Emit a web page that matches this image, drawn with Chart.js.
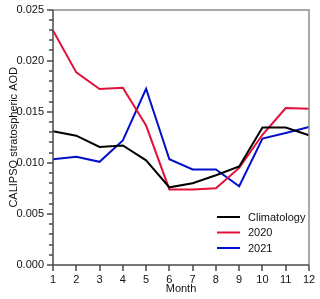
<!DOCTYPE html>
<html>
<head>
<meta charset="utf-8">
<script src="https://cdn.jsdelivr.net/npm/chart.js@4/dist/chart.umd.min.js"></script>
<style>
  html, body { margin: 0; padding: 0; background: #fff; }
  #wrap { width: 320px; height: 299px; }
</style>
</head>
<body>
<div id="wrap"><canvas id="aodChart" width="320" height="299"></canvas></div>
<script>
const months = ['1', '2', '3', '4', '5', '6', '7', '8', '9', '10', '11', '12'];
const climatology = [0.0131, 0.01266, 0.01155, 0.0117, 0.01025, 0.0076, 0.008, 0.00879, 0.00965, 0.01345, 0.01345, 0.0127];
const aod2020 = [0.02295, 0.01885, 0.01722, 0.01735, 0.01365, 0.0074, 0.0074, 0.00752, 0.0095, 0.01275, 0.01537, 0.0153];
const aod2021 = [0.01035, 0.0106, 0.0101, 0.0122, 0.01725, 0.01035, 0.00935, 0.00935, 0.00771, 0.01237, 0.01292, 0.0135];

const FONT = "'Liberation Sans', Arial, sans-serif";
const isMajor = v => Math.round(v * 1000) % 5 === 0;

// frame, tick marks and the legend inside the plot, all drawn last
const decorations = {
    id: 'decorations',
    afterDraw(chart) {
        const { ctx, chartArea: a, scales } = chart;
        const ys = scales.y, xs = scales.x;
        const L = Math.round(a.left), R = Math.round(a.right), T = Math.round(a.top), B = Math.round(a.bottom);
        ctx.save();
        ctx.lineWidth = 1.5;
        ctx.lineCap = 'butt';

        // top + right frame in grey
        ctx.strokeStyle = '#8c8c8c';
        ctx.beginPath();
        ctx.moveTo(L, T);
        ctx.lineTo(R, T);
        ctx.lineTo(R, B);
        ctx.stroke();

        // left + bottom axes with outward ticks
        ctx.strokeStyle = '#4a4a4a';
        ctx.beginPath();
        ctx.moveTo(L, T);
        ctx.lineTo(L, B);
        ctx.lineTo(R, B);
        for (let i = 0; i <= 25; i++) {
            const py = Math.round(ys.getPixelForValue(i / 1000));
            ctx.moveTo(L, py);
            ctx.lineTo(L - (i % 5 === 0 ? 6 : 4), py);
        }
        months.forEach((m, i) => {
            const px = Math.round(xs.getPixelForValue(i));
            ctx.moveTo(px, B);
            ctx.lineTo(px, B + 6);
        });
        ctx.stroke();

        // legend
        ctx.font = '11px ' + FONT;
        ctx.textBaseline = 'middle';
        ctx.textAlign = 'left';
        const rows = [B - 48, B - 32.5, B - 17];
        chart.data.datasets.forEach((ds, i) => {
            ctx.strokeStyle = ds.borderColor;
            ctx.lineWidth = 2;
            ctx.beginPath();
            ctx.moveTo(R - 92, rows[i]);
            ctx.lineTo(R - 69, rows[i]);
            ctx.stroke();
            ctx.fillStyle = '#111';
            ctx.fillText(ds.label, R - 61, rows[i] + 0.5);
        });
        ctx.restore();
    }
};

new Chart(document.getElementById('aodChart'), {
    type: 'line',
    data: {
        labels: months,
        datasets: [
            { label: 'Climatology', data: climatology, borderColor: '#000000' },
            { label: '2020', data: aod2020, borderColor: '#e3103b' },
            { label: '2021', data: aod2021, borderColor: '#0010cc' }
        ]
    },
    options: {
        responsive: false,
        animation: false,
        devicePixelRatio: 1,
        layout: { padding: { top: 9, right: 11, left: 0, bottom: 0 } },
        elements: {
            line: { borderWidth: 2, tension: 0 },
            point: { radius: 0 }
        },
        plugins: { legend: { display: false }, tooltip: { enabled: false } },
        scales: {
            x: {
                type: 'category',
                offset: false,
                grid: { display: false, drawTicks: true, tickLength: 6 },
                border: { display: false },
                ticks: { color: '#111', font: { family: FONT, size: 11 }, padding: 2, maxRotation: 0, autoSkip: false },
                title: { display: true, text: 'Month', color: '#111', font: { family: FONT, size: 11 }, padding: { top: 0, bottom: 3 } },
                afterFit(scale) { scale.height = 34; }
            },
            y: {
                min: 0,
                max: 0.025,
                grid: { display: false, drawTicks: true, tickLength: 6 },
                border: { display: false },
                ticks: {
                    stepSize: 0.001,
                    autoSkip: false,
                    color: '#111',
                    font: { family: FONT, size: 11 },
                    padding: 3,
                    callback: v => isMajor(v) ? Number(v).toFixed(3) : ''
                },
                title: { display: true, text: 'CALIPSO stratospheric AOD', color: '#111', font: { family: FONT, size: 11 }, padding: { top: 7, bottom: 0 } },
                afterFit(scale) { scale.width = 53; }
            }
        }
    },
    plugins: [decorations]
});
</script>
</body>
</html>
